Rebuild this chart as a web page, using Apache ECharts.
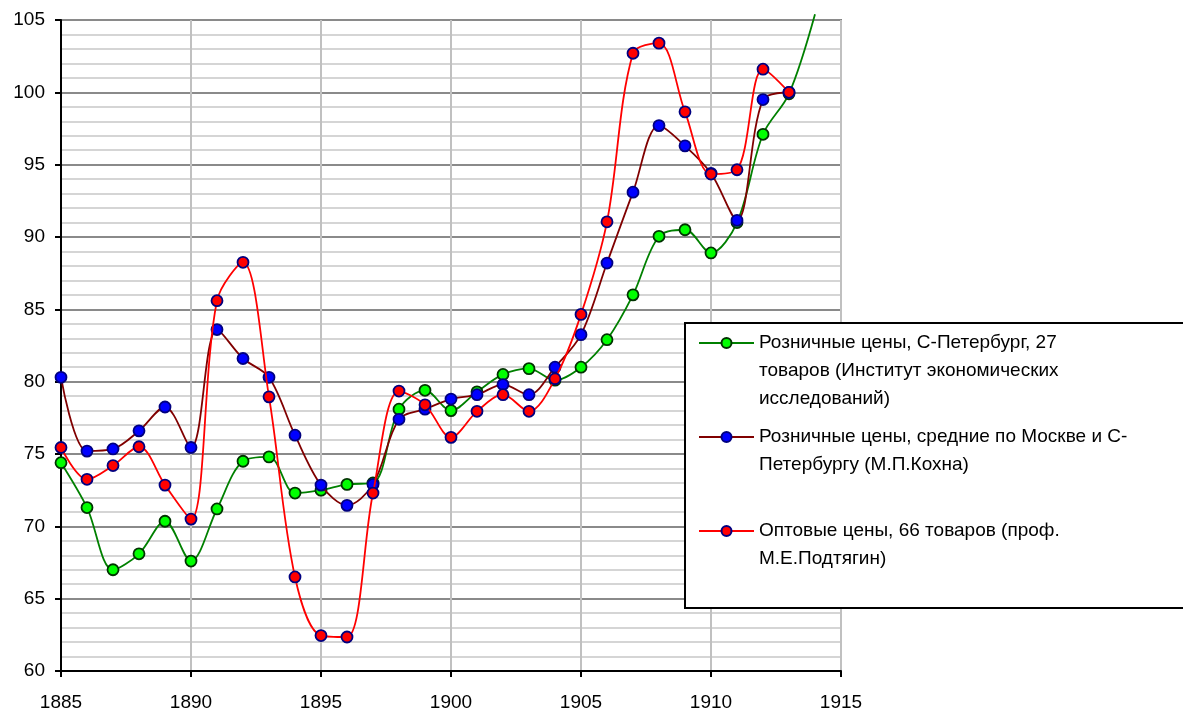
<!DOCTYPE html>
<html>
<head>
<meta charset="utf-8">
<script src="https://cdn.jsdelivr.net/npm/echarts@6/dist/echarts.min.js"></script>
<style>
html,body{margin:0;padding:0;background:#fff;}
#chart{width:1183px;height:712px;}
</style>
</head>
<body>
<div id="chart"></div>
<script>
// ---- data ----
const years = [1885,1886,1887,1888,1889,1890,1891,1892,1893,1894,1895,1896,1897,1898,1899,1900,1901,1902,1903,1904,1905,1906,1907,1908,1909,1910,1911,1912,1913,1914];
const spbRetail = [74.4,71.3,67.0,68.1,70.35,67.6,71.2,74.5,74.8,72.3,72.5,72.9,73.0,78.1,79.4,78.0,79.3,80.5,80.9,80.1,81.0,82.9,86.0,90.05,90.5,88.9,91.0,97.1,99.9,105.4];
const mskSpbRetail = [80.3,75.2,75.35,76.6,78.25,75.45,83.6,81.6,80.3,76.3,72.85,71.45,72.9,77.4,78.1,78.8,79.1,79.8,79.1,81.0,83.25,88.2,93.1,97.7,96.3,94.4,91.15,99.5,100.0,null];
const wholesale = [75.45,73.25,74.2,75.5,72.85,70.5,85.6,88.25,78.95,66.5,62.45,62.35,72.3,79.35,78.4,76.15,77.95,79.1,77.95,80.2,84.65,91.05,102.7,103.4,98.65,94.35,94.65,101.6,100.0,null];
const seriesNames = [
  'Розничные цены, С-Петербург, 27 товаров (Институт экономических исследований)',
  'Розничные цены, средние по Москве и С-Петербургу (М.П.Кохна)',
  'Оптовые цены, 66 товаров (проф. М.Е.Подтягин)'
];
const legendLines = [
  ['Розничные цены, С-Петербург, 27', 'товаров (Институт экономических', 'исследований)'],
  ['Розничные цены, средние по Москве и С-', 'Петербургу (М.П.Кохна)'],
  ['Оптовые цены, 66 товаров (проф.', 'М.Е.Подтягин)']
];
const xTicks = {min:1885, max:1915, interval:5};
const yTicks = {min:60, max:105, interval:5};

// ---- build ----
const FONT = "'Liberation Sans', Arial, sans-serif";
function pairs(vals, noMarkerIdx) {
  const out = [];
  vals.forEach((v, i) => {
    if (v === null) return;
    if (noMarkerIdx && noMarkerIdx.indexOf(i) >= 0) out.push({value:[years[i], v], symbol:'none'});
    else out.push([years[i], v]);
  });
  return out;
}
const styles = [
  {line:'#008000', fill:'#00ff00', border:'#003300'},
  {line:'#800000', fill:'#0000ff', border:'#000080'},
  {line:'#ff0000', fill:'#ff0000', border:'#000080'}
];
const dataSets = [pairs(spbRetail, [years.length-1]), pairs(mskSpbRetail), pairs(wholesale)];
const series = dataSets.map((d, i) => ({
  name: seriesNames[i],
  type: 'line',
  data: d,
  smooth: 0.33,
  clip: false,
  symbol: 'circle',
  symbolSize: 11,
  lineStyle: {color: styles[i].line, width: 1.8},
  itemStyle: {color: styles[i].fill, borderColor: styles[i].border, borderWidth: 1.8},
  emphasis: {disabled: true},
  z: 2 + i
}));

const lineH = 28;
const iconYs = [343, 437, 531];
const legends = legendLines.map((lines, i) => {
  const pad = new Array(lines.length - 1).fill('').join('\n');
  const text = (lines.length > 1 ? pad + '\n' : '') + lines.join('\n');
  const totalLines = lines.length * 2 - 1;
  return {
    data: [seriesNames[i]],
    left: 698,
    top: iconYs[i] - totalLines * lineH / 2,
    padding: 0,
    itemWidth: 55,
    itemHeight: 12.5,
    selectedMode: false,
    formatter: () => text,
    textStyle: {fontFamily: FONT, fontSize: 19, lineHeight: lineH, color: '#000'},
    z: 10
  };
});

const chart = echarts.init(document.getElementById('chart'), null, {renderer: 'canvas'});
chart.setOption({
  animation: false,
  backgroundColor: '#fff',
  grid: {left: 61, top: 20, right: 342, bottom: 40.5, show: true, borderColor: '#808080', borderWidth: 2, backgroundColor: 'transparent'},
  xAxis: {
    type: 'value', min: xTicks.min, max: xTicks.max, interval: xTicks.interval,
    axisLine: {show: true, onZero: false, lineStyle: {color: '#000', width: 2}},
    axisTick: {show: true, length: 6, lineStyle: {color: '#000', width: 2}},
    axisLabel: {margin: 22, color: '#000', fontFamily: FONT, fontSize: 19, formatter: v => String(v)},
    splitLine: {show: true, lineStyle: {color: '#c0c0c0', width: 2}}
  },
  yAxis: {
    type: 'value', min: yTicks.min, max: yTicks.max, interval: yTicks.interval,
    axisLine: {show: true, onZero: false, lineStyle: {color: '#000', width: 2}},
    axisTick: {show: true, length: 6, lineStyle: {color: '#000', width: 2}},
    axisLabel: {margin: 16, color: '#000', fontFamily: FONT, fontSize: 19},
    splitLine: {show: true, lineStyle: {color: '#8a8a8a', width: 2}},
    minorTick: {show: false, splitNumber: 5},
    minorSplitLine: {show: true, lineStyle: {color: '#c8c8c8', width: 1.5}}
  },
  legend: legends,
  graphic: [{
    type: 'rect', z: 8,
    shape: {x: 685, y: 323, width: 520, height: 285},
    style: {fill: '#fff', stroke: '#000', lineWidth: 2}
  }],
  series: series
});
</script>
</body>
</html>
